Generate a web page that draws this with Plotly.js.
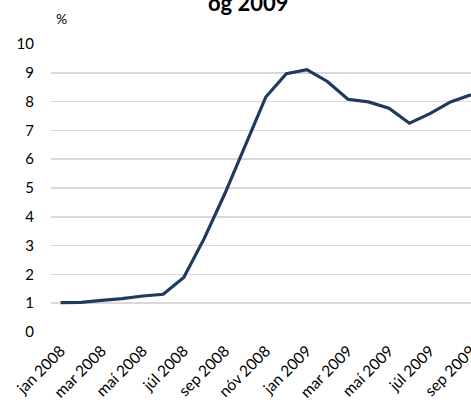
<!DOCTYPE html>
<html>
<head>
<meta charset="utf-8">
<script src="https://cdn.plot.ly/plotly-3.0.1.min.js"></script>
<style>html,body{margin:0;padding:0;background:#fff;}#chart{width:471px;height:403px;}</style>
</head>
<body>
<div id="chart"></div>
<script>
const months = ["jan 2008","feb 2008","mar 2008","apr 2008","maí 2008","jún 2008","júl 2008","ágú 2008","sep 2008","okt 2008","nóv 2008","des 2008",
                "jan 2009","feb 2009","mar 2009","apr 2009","maí 2009","jún 2009","júl 2009","ágú 2009","sep 2009"];
const values = [1.02,1.03,1.10,1.16,1.25,1.31,1.89,3.25,4.80,6.50,8.16,8.97,9.11,8.70,8.08,7.99,7.77,7.25,7.58,7.99,8.24];
const tickLabels = ["jan 2008","mar 2008","maí 2008","júl 2008","sep 2008","nóv 2008","jan 2009","mar 2009","maí 2009","júl 2009","sep 2009"];
const yTicks = [0,1,2,3,4,5,6,7,8,9,10];

const font = "Lato, 'Open Sans', sans-serif";
Plotly.newPlot('chart', [{
  x: months, y: values, type: 'scatter', mode: 'lines',
  line: {color: '#1f3a5c', width: 3.2}, hoverinfo: 'skip'
}], {
  width: 471, height: 403,
  margin: {l: 51, r: 0, t: 44, b: 71},
  paper_bgcolor: '#fff', plot_bgcolor: '#fff',
  showlegend: false,
  font: {family: font, color: '#000'},
  xaxis: {
    type: 'category', categoryorder: 'array', categoryarray: months,
    range: [-0.47, 20.0],
    tickmode: 'array', tickvals: tickLabels, ticktext: tickLabels,
    tickangle: -45, showgrid: false, zeroline: false, showline: false,
    ticks: '', ticklabelstandoff: 6,
    tickfont: {family: font, size: 15.5, color: '#000'}
  },
  yaxis: {
    range: [0, 10], tickmode: 'array', tickvals: yTicks,
    showgrid: true, gridcolor: '#d9d9d9', gridwidth: 1.5,
    zeroline: false, showline: false, ticks: '', ticklabelstandoff: 16,
    tickfont: {family: font, size: 15, color: '#000'}
  },
  annotations: [
    {text: '%', xref: 'paper', yref: 'paper', x: 0.008, y: 1, xanchor: 'left', yanchor: 'bottom', yshift: 15,
     showarrow: false, font: {family: font, size: 14, color: '#000'}},
    {text: '<b>og 2009</b>', xref: 'paper', yref: 'paper', x: 0.47, y: 1, xanchor: 'center', yanchor: 'bottom', yshift: 26,
     showarrow: false, font: {family: font, size: 22, color: '#000'}}
  ]
}, {displayModeBar: false, staticPlot: true});
</script>
</body>
</html>
